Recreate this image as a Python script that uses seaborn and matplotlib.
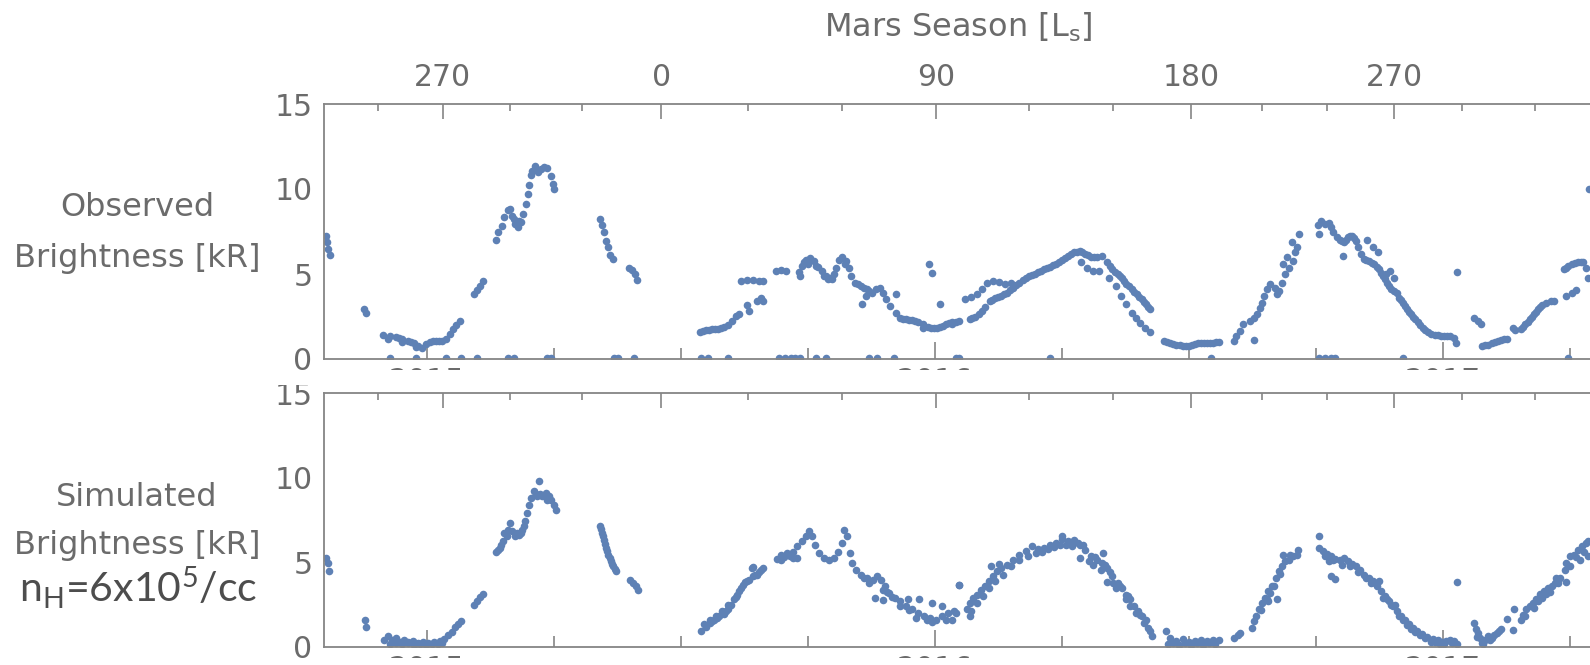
import numpy as np
import pandas as pd
import matplotlib
matplotlib.use("Agg")
import matplotlib.pyplot as plt
from matplotlib.patches import Rectangle
import seaborn as sns

# Style
sns.set_theme(style="white")
plt.rcParams['font.family'] = ['DejaVu Sans']
plt.rcParams['mathtext.rm'] = 'Lato'
plt.rcParams['mathtext.it'] = 'Lato:italic'
plt.rcParams['mathtext.bf'] = 'Lato:bold'

DOT = '#5e81b5'
TEXT = '#6b6b6b'
LINE = '#858585'

# ---------------- data ----------------
# observed brightness (decimal year, kR)
obs_points = [
    (2014.802, 7.26), (2014.804, 6.86), (2014.806, 6.47), (2014.810, 6.13),
    (2014.877, 2.92), (2014.880, 2.72),
    (2014.915, 1.44), (2014.927, 1.38), (2014.939, 1.30), (2014.951, 1.20), (2014.963, 1.08),
    (2014.975, 0.95), (2014.983, 0.75), (2014.990, 0.65), (2014.998, 0.89), (2015.007, 1.01),
    (2015.019, 1.05), (2015.031, 1.08), (2015.039, 1.20), (2015.046, 1.48), (2015.051, 1.74),
    (2015.058, 1.99), (2015.065, 2.23), (2014.923, 1.20), (2014.951, 1.01), (2014.979, 0.69),
    (2014.945, 1.25), (2014.969, 1.02), (2015.013, 1.03), (2015.025, 1.06),
    (2015.094, 3.81), (2015.100, 4.04), (2015.105, 4.30), (2015.110, 4.56),
    (2015.136, 7.00), (2015.141, 7.45), (2015.148, 7.85), (2015.153, 8.34), (2015.160, 8.74),
    (2015.164, 8.83), (2015.168, 8.44), (2015.172, 8.24), (2015.174, 7.95), (2015.180, 7.79),
    (2015.182, 8.14), (2015.186, 8.05), (2015.190, 8.54), (2015.196, 9.13), (2015.200, 9.72),
    (2015.202, 10.21), (2015.206, 10.81), (2015.208, 11.06), (2015.214, 11.34), (2015.220, 11.00),
    (2015.226, 11.20), (2015.231, 11.30), (2015.236, 11.26), (2015.244, 10.75), (2015.248, 10.31),
    (2015.251, 10.02),
    (2015.341, 8.24), (2015.345, 7.91), (2015.349, 7.45), (2015.353, 6.96), (2015.357, 6.57),
    (2015.361, 6.13), (2015.367, 5.88),
    (2015.399, 5.38), (2015.405, 5.23), (2015.410, 4.99), (2015.415, 4.63),
    (2015.539, 1.58), (2015.549, 1.68), (2015.561, 1.74), (2015.573, 1.79), (2015.586, 1.87),
    (2015.594, 1.99), (2015.602, 2.23), (2015.608, 2.52), (2015.614, 2.62),
    (2015.544, 1.63), (2015.555, 1.71), (2015.567, 1.76), (2015.580, 1.83),
    (2015.630, 3.17), (2015.634, 2.82), (2015.651, 3.41), (2015.658, 3.61), (2015.662, 3.41),
    (2015.619, 4.59), (2015.630, 4.65), (2015.642, 4.63), (2015.654, 4.59), (2015.662, 4.56),
    (2015.688, 5.19), (2015.698, 5.23), (2015.708, 5.15),
    (2015.732, 5.09), (2015.738, 5.48), (2015.746, 5.82), (2015.754, 5.94), (2015.762, 5.78),
    (2015.770, 5.42), (2015.778, 5.15), (2015.786, 4.89), (2015.794, 4.79), (2015.801, 4.99),
    (2015.806, 5.38), (2015.812, 5.82), (2015.818, 5.98), (2015.825, 5.78), (2015.831, 5.38),
    (2015.836, 4.89), (2015.844, 4.50), (2015.855, 4.30), (2015.867, 4.10), (2015.876, 3.90),
    (2015.884, 4.10), (2015.892, 4.16), (2015.899, 3.90), (2015.905, 3.51), (2015.913, 3.12),
    (2015.923, 2.72), (2015.931, 2.43), (2015.943, 2.33), (2015.955, 2.27), (2015.967, 2.19),
    (2015.977, 2.07), (2015.987, 1.87), (2015.999, 1.83), (2016.011, 1.87), (2016.023, 2.07),
    (2016.035, 2.19), (2016.047, 2.23),
    (2015.742, 5.68), (2015.790, 4.69), (2015.849, 4.40), (2015.871, 4.00),
    (2015.734, 4.89), (2015.750, 5.58), (2015.766, 5.48), (2015.782, 4.89), (2015.798, 4.69),
    (2015.823, 5.58), (2015.861, 4.20), (2015.937, 2.38), (2015.949, 2.30), (2015.961, 2.23),
    (2015.993, 1.85), (2016.005, 1.85), (2016.017, 1.97), (2016.029, 2.13),
    (2015.857, 3.21), (2015.865, 3.71), (2015.923, 3.85), (2015.977, 1.83), (2015.989, 5.58),
    (2015.995, 5.03), (2016.010, 3.21),
    (2016.034, 2.03), (2016.043, 2.19),
    (2016.069, 2.33), (2016.079, 2.47), (2016.088, 2.62), (2016.099, 3.06), (2016.108, 3.41),
    (2016.119, 3.57), (2016.131, 3.71), (2016.143, 3.90), (2016.155, 4.20), (2016.167, 4.50),
    (2016.179, 4.79), (2016.191, 4.95), (2016.203, 5.09), (2016.215, 5.28), (2016.227, 5.44),
    (2016.239, 5.58), (2016.251, 5.82), (2016.263, 6.07), (2016.275, 6.27), (2016.286, 6.37),
    (2016.296, 6.17), (2016.308, 6.01), (2016.320, 5.98), (2016.329, 6.07), (2016.340, 5.68),
    (2016.350, 5.28), (2016.360, 4.99), (2016.368, 4.79), (2016.377, 4.44), (2016.388, 4.10),
    (2016.398, 3.81), (2016.408, 3.51), (2016.416, 3.21), (2016.424, 2.92),
    (2016.074, 2.40), (2016.093, 2.85), (2016.113, 3.50), (2016.125, 3.64), (2016.137, 3.80),
    (2016.149, 4.05), (2016.161, 4.35), (2016.173, 4.65), (2016.185, 4.87), (2016.197, 5.02),
    (2016.209, 5.18), (2016.221, 5.36), (2016.233, 5.51), (2016.245, 5.70), (2016.257, 5.95),
    (2016.269, 6.17), (2016.281, 6.32), (2016.291, 6.27), (2016.302, 6.09), (2016.314, 6.00),
    (2016.345, 5.48), (2016.355, 5.13), (2016.364, 4.89), (2016.372, 4.61), (2016.382, 4.27),
    (2016.393, 3.95), (2016.403, 3.66), (2016.412, 3.36), (2016.420, 3.06),
    (2016.059, 3.51), (2016.071, 3.65), (2016.083, 3.81), (2016.093, 4.10), (2016.104, 4.50),
    (2016.115, 4.59), (2016.127, 4.54), (2016.139, 4.40), (2016.151, 4.50),
    (2016.344, 4.79), (2016.356, 4.30), (2016.366, 3.71), (2016.376, 3.21), (2016.388, 2.72),
    (2016.396, 2.43), (2016.404, 2.13), (2016.414, 1.83), (2016.424, 1.60),
    (2016.300, 5.38), (2016.312, 5.19), (2016.324, 5.19), (2016.288, 5.68),
    (2016.452, 1.08), (2016.464, 0.95), (2016.476, 0.85), (2016.488, 0.79), (2016.500, 0.79),
    (2016.512, 0.89), (2016.524, 0.95), (2016.537, 0.97), (2016.548, 0.97), (2016.559, 0.99),
    (2016.458, 1.00), (2016.470, 0.90), (2016.482, 0.82), (2016.494, 0.79), (2016.506, 0.84),
    (2016.518, 0.92), (2016.530, 0.96), (2016.542, 0.97), (2016.554, 0.98),
    (2016.589, 1.08), (2016.594, 1.34), (2016.601, 1.64), (2016.607, 2.07), (2016.621, 2.23),
    (2016.629, 2.43), (2016.634, 2.62), (2016.641, 3.02), (2016.645, 3.31), (2016.649, 3.71),
    (2016.655, 4.10), (2016.661, 4.40), (2016.669, 4.20), (2016.673, 3.81), (2016.677, 4.00),
    (2016.683, 4.50), (2016.689, 4.99), (2016.697, 5.38), (2016.705, 5.78), (2016.709, 6.27),
    (2016.713, 6.57),
    (2016.685, 5.58), (2016.693, 5.98), (2016.703, 6.86), (2016.717, 7.36), (2016.629, 1.10),
    (2016.755, 7.91), (2016.761, 8.10), (2016.768, 7.95), (2016.776, 7.99), (2016.781, 7.75),
    (2016.785, 7.45), (2016.792, 7.20), (2016.797, 7.00), (2016.805, 6.86), (2016.813, 7.16),
    (2016.821, 7.26), (2016.830, 6.96), (2016.834, 6.57), (2016.840, 6.17), (2016.846, 5.88),
    (2016.854, 5.74), (2016.865, 5.58), (2016.874, 5.28), (2016.882, 4.89), (2016.890, 4.50),
    (2016.898, 4.10), (2016.904, 4.00), (2016.910, 3.90), (2016.914, 3.61), (2016.922, 3.31),
    (2016.930, 2.92), (2016.938, 2.62), (2016.946, 2.33), (2016.956, 1.99), (2016.966, 1.68),
    (2016.978, 1.48), (2016.990, 1.40), (2017.002, 1.34), (2017.014, 1.34), (2017.022, 1.24),
    (2017.026, 0.95),
    (2016.801, 6.93), (2016.809, 7.00), (2016.817, 7.22), (2016.826, 7.10), (2016.850, 5.80),
    (2016.860, 5.66), (2016.870, 5.43), (2016.878, 5.08), (2016.886, 4.70), (2016.894, 4.30),
    (2016.918, 3.46), (2016.926, 3.11), (2016.934, 2.77), (2016.942, 2.47), (2016.951, 2.16),
    (2016.961, 1.83), (2016.972, 1.58), (2016.984, 1.44), (2016.996, 1.37), (2017.008, 1.34),
    (2016.757, 7.36), (2016.803, 6.03), (2016.851, 7.00), (2016.862, 6.57), (2016.872, 6.27),
    (2016.888, 4.99), (2016.896, 5.15), (2016.904, 4.79), (2017.028, 5.09),
    (2017.061, 2.39), (2017.070, 2.23), (2017.076, 2.07),
    (2017.078, 0.75), (2017.090, 0.85), (2017.103, 1.01), (2017.115, 1.12), (2017.127, 1.20),
    (2017.084, 0.80), (2017.097, 0.93), (2017.109, 1.07), (2017.121, 1.16),
    (2017.139, 1.83), (2017.143, 1.68),
    (2017.155, 1.74), (2017.163, 2.03), (2017.171, 2.33), (2017.179, 2.62), (2017.187, 2.92),
    (2017.195, 3.17), (2017.203, 3.31), (2017.213, 3.41), (2017.219, 3.41),
    (2017.159, 1.88), (2017.167, 2.18), (2017.175, 2.47), (2017.183, 2.77), (2017.191, 3.05),
    (2017.243, 3.71), (2017.255, 3.90), (2017.263, 4.04),
    (2017.239, 5.28), (2017.247, 5.48), (2017.255, 5.58), (2017.267, 5.68), (2017.277, 5.68),
    (2017.283, 5.38), (2017.287, 4.79), (2017.243, 5.38), (2017.261, 5.63), (2017.272, 5.68),
    (2017.289, 10.0),
]

# observed points sitting on the zero line
obs_zero_year = [
    2014.927, 2014.979, 2015.039, 2015.067, 2015.100, 2015.160, 2015.172, 2015.236, 2015.244,
    2015.369, 2015.377, 2015.409, 2015.541, 2015.553, 2015.594, 2015.694, 2015.706, 2015.718,
    2015.726, 2015.734, 2015.766, 2015.786, 2015.871, 2015.886, 2015.919, 2016.043, 2016.047,
    2016.227, 2016.544, 2016.757, 2016.769, 2016.781, 2016.789, 2016.922, 2017.247,
]
obs_zero_kr = [0.08] * len(obs_zero_year)

# simulated brightness (decimal year, kR), n_H = 6e5 /cc
sim_points = [
    (2014.802, 5.26), (2014.805, 4.96), (2014.808, 4.47),
    (2014.879, 1.61), (2014.880, 1.18),
    (2014.917, 0.43), (2014.923, 0.63), (2014.931, 0.39), (2014.939, 0.53), (2014.947, 0.28),
    (2014.955, 0.39), (2014.963, 0.24), (2014.974, 0.33), (2014.983, 0.20), (2014.993, 0.28),
    (2015.003, 0.24), (2015.015, 0.28), (2015.027, 0.33), (2015.035, 0.47), (2015.043, 0.67),
    (2015.049, 0.87),
    (2014.927, 0.14), (2014.951, 0.14), (2014.975, 0.12), (2014.999, 0.10), (2015.023, 0.14),
    (2014.939, 0.25), (2014.963, 0.30), (2014.987, 0.18), (2015.011, 0.15), (2015.031, 0.22),
    (2015.055, 1.18), (2015.062, 1.36), (2015.067, 1.52),
    (2015.094, 2.50), (2015.100, 2.70), (2015.105, 2.95), (2015.110, 3.15),
    (2015.137, 5.59), (2015.144, 5.85), (2015.150, 6.24), (2015.153, 6.73), (2015.160, 6.93),
    (2015.164, 7.32), (2015.168, 6.83), (2015.174, 6.54), (2015.181, 6.64), (2015.188, 6.93),
    (2015.194, 7.42), (2015.198, 7.92), (2015.202, 8.41), (2015.206, 8.80), (2015.212, 9.20),
    (2015.218, 8.94), (2015.222, 9.79), (2015.228, 8.94), (2015.234, 9.10), (2015.240, 8.90),
    (2015.245, 8.70), (2015.250, 8.41), (2015.255, 8.11),
    (2015.158, 6.54), (2015.177, 6.73), (2015.224, 9.06), (2015.236, 8.70), (2015.215, 9.05),
    (2015.141, 5.70), (2015.147, 6.05), (2015.185, 6.75), (2015.191, 7.15),
    (2015.341, 7.13), (2015.345, 6.73), (2015.349, 6.34), (2015.353, 5.85), (2015.357, 5.45),
    (2015.362, 5.06), (2015.367, 4.77), (2015.373, 4.47), (2015.343, 6.95), (2015.347, 6.55),
    (2015.351, 6.10), (2015.355, 5.65), (2015.360, 5.25), (2015.364, 4.90), (2015.370, 4.62),
    (2015.401, 3.98), (2015.407, 3.78), (2015.413, 3.58), (2015.417, 3.39),
    (2015.541, 0.93), (2015.549, 1.18), (2015.557, 1.42), (2015.565, 1.61), (2015.576, 1.81),
    (2015.586, 1.97), (2015.594, 2.21), (2015.600, 2.50), (2015.605, 2.84), (2015.611, 3.09),
    (2015.618, 3.49), (2015.626, 3.82), (2015.634, 3.98), (2015.642, 4.17), (2015.650, 4.27),
    (2015.658, 4.57), (2015.662, 4.67),
    (2015.545, 1.32), (2015.557, 1.61), (2015.569, 1.81), (2015.581, 2.11), (2015.594, 2.50),
    (2015.640, 4.67), (2015.561, 1.50), (2015.571, 1.70), (2015.590, 2.10), (2015.608, 2.95),
    (2015.615, 3.30), (2015.622, 3.65), (2015.630, 3.90), (2015.646, 4.22), (2015.654, 4.42),
    (2015.690, 5.20), (2015.698, 5.45), (2015.710, 5.55), (2015.722, 5.59), (2015.730, 5.95),
    (2015.738, 6.24), (2015.746, 6.54), (2015.753, 6.83), (2015.758, 6.54), (2015.764, 6.04),
    (2015.772, 5.55), (2015.782, 5.26), (2015.793, 5.12), (2015.802, 5.26), (2015.810, 5.59),
    (2015.817, 6.14), (2015.822, 6.93), (2015.828, 6.54), (2015.833, 5.55), (2015.838, 4.96),
    (2015.846, 4.57), (2015.855, 4.27), (2015.867, 4.08), (2015.879, 3.98), (2015.886, 4.17),
    (2015.894, 3.98), (2015.902, 3.58), (2015.910, 3.19), (2015.921, 2.89), (2015.931, 2.70),
    (2015.943, 2.40), (2015.955, 2.21), (2015.967, 2.01), (2015.979, 1.81), (2015.991, 1.71),
    (2016.003, 1.61), (2016.015, 1.81), (2016.027, 2.01), (2016.039, 2.11), (2016.047, 3.68),
    (2015.698, 5.16), (2015.722, 5.26), (2015.871, 3.78), (2015.898, 3.39), (2015.931, 2.40),
    (2015.963, 1.71), (2015.995, 1.46), (2016.023, 1.58), (2015.704, 5.30), (2015.716, 5.35),
    (2015.861, 4.05), (2015.906, 3.25), (2015.916, 2.95), (2015.949, 2.20), (2015.985, 1.60),
    (2015.883, 2.89), (2015.898, 2.76), (2015.947, 2.80), (2015.969, 2.84), (2015.995, 2.60),
    (2016.015, 2.44), (2015.730, 5.26), (2015.642, 4.73),
    (2016.034, 1.61), (2016.043, 2.01), (2016.048, 3.68),
    (2016.063, 2.21), (2016.069, 2.60), (2016.075, 2.89), (2016.083, 3.09), (2016.091, 3.39),
    (2016.099, 3.58), (2016.107, 3.88), (2016.115, 4.17), (2016.123, 4.47), (2016.131, 4.67),
    (2016.143, 4.86), (2016.155, 5.16), (2016.167, 5.45), (2016.179, 5.65), (2016.191, 5.95),
    (2016.203, 5.79), (2016.215, 5.85), (2016.227, 6.04), (2016.239, 6.14), (2016.251, 6.38),
    (2016.263, 6.24), (2016.275, 6.34), (2016.286, 6.04), (2016.296, 5.75), (2016.308, 5.36),
    (2016.320, 5.16), (2016.329, 4.96), (2016.340, 4.67), (2016.350, 4.17), (2016.360, 3.78),
    (2016.368, 3.49), (2016.376, 3.09), (2016.384, 2.80), (2016.392, 2.40), (2016.400, 2.11),
    (2016.408, 1.81), (2016.416, 1.61), (2016.424, 0.93), (2016.428, 0.63),
    (2016.071, 2.11), (2016.083, 2.60), (2016.095, 2.99), (2016.107, 3.49), (2016.119, 3.88),
    (2016.135, 4.27), (2016.151, 4.77), (2016.167, 5.16), (2016.183, 5.36), (2016.199, 5.55),
    (2016.271, 5.95), (2016.304, 5.06), (2016.328, 4.57), (2016.352, 3.78), (2016.376, 2.80),
    (2016.396, 2.01), (2016.412, 1.42), (2016.420, 1.12),
    (2016.211, 5.60), (2016.223, 5.80), (2016.235, 5.90), (2016.247, 6.05), (2016.259, 6.00),
    (2016.283, 6.15), (2016.292, 6.00), (2016.316, 5.30), (2016.336, 4.85), (2016.345, 4.40),
    (2016.364, 3.60), (2016.380, 3.00), (2016.404, 1.90),
    (2016.069, 1.81), (2016.111, 4.80), (2016.127, 4.92), (2016.287, 5.26), (2016.312, 4.86),
    (2016.332, 5.55), (2016.340, 3.82), (2016.356, 3.49), (2016.384, 2.40), (2016.251, 6.58),
    (2016.456, 0.93), (2016.464, 0.53), (2016.476, 0.33), (2016.488, 0.47), (2016.500, 0.28),
    (2016.512, 0.33), (2016.524, 0.39), (2016.537, 0.32), (2016.548, 0.39), (2016.559, 0.43),
    (2016.460, 0.14), (2016.480, 0.12), (2016.504, 0.10), (2016.528, 0.12), (2016.552, 0.14),
    (2016.470, 0.22), (2016.492, 0.20), (2016.516, 0.22), (2016.540, 0.20),
    (2016.589, 0.53), (2016.597, 0.67), (2016.602, 0.83), (2016.625, 1.12), (2016.629, 1.52),
    (2016.633, 1.85), (2016.639, 2.21), (2016.645, 2.60), (2016.650, 2.89), (2016.657, 3.29),
    (2016.665, 3.58), (2016.671, 4.08), (2016.677, 4.47), (2016.683, 4.77), (2016.689, 5.06),
    (2016.697, 5.16), (2016.705, 5.36), (2016.713, 5.45),
    (2016.685, 5.45), (2016.699, 5.45), (2016.715, 5.71), (2016.657, 2.70), (2016.673, 2.80),
    (2016.642, 2.15), (2016.654, 2.85), (2016.661, 3.20), (2016.668, 3.60), (2016.680, 4.30),
    (2016.757, 6.54), (2016.757, 5.85), (2016.765, 5.65), (2016.773, 5.51), (2016.781, 5.36),
    (2016.789, 5.20), (2016.797, 5.12), (2016.805, 5.26), (2016.813, 5.06), (2016.821, 4.92),
    (2016.830, 4.77), (2016.838, 4.57), (2016.846, 4.27), (2016.854, 4.08), (2016.862, 3.88),
    (2016.870, 3.58), (2016.878, 3.29), (2016.886, 2.99), (2016.894, 2.70), (2016.902, 2.40),
    (2016.910, 2.11), (2016.918, 1.81), (2016.926, 1.58), (2016.934, 1.32), (2016.942, 1.12),
    (2016.950, 0.93), (2016.960, 0.73), (2016.970, 0.59), (2016.980, 0.47), (2016.990, 0.39),
    (2016.998, 0.28), (2017.006, 0.33), (2017.014, 0.43), (2017.022, 0.33), (2017.028, 0.14),
    (2016.777, 5.06), (2016.801, 4.86), (2016.834, 4.41), (2016.866, 3.78), (2016.890, 2.80),
    (2016.906, 2.50), (2016.922, 1.61), (2016.946, 0.87), (2016.978, 0.28), (2016.994, 0.14),
    (2016.769, 5.40), (2016.785, 5.15), (2016.817, 4.80), (2016.850, 4.05), (2016.858, 3.80),
    (2016.882, 2.90), (2016.898, 2.45), (2016.914, 1.80), (2016.930, 1.30), (2016.938, 1.05),
    (2016.955, 0.70), (2016.965, 0.50), (2016.985, 0.30), (2017.002, 0.18), (2017.018, 0.20),
    (2016.781, 4.17), (2016.789, 4.02), (2017.029, 3.82), (2016.875, 3.88),
    (2017.062, 1.42), (2017.066, 1.06), (2017.070, 0.83), (2017.074, 0.53), (2017.078, 0.24),
    (2017.084, 0.43), (2017.090, 0.63), (2017.098, 0.53), (2017.106, 0.83), (2017.115, 1.06),
    (2017.068, 0.60), (2017.080, 0.15), (2017.094, 0.40), (2017.102, 0.70), (2017.110, 0.95),
    (2017.140, 2.21), (2017.139, 0.98), (2017.127, 1.65),
    (2017.155, 1.61), (2017.159, 1.91), (2017.164, 2.21), (2017.171, 2.40), (2017.177, 2.60),
    (2017.184, 2.84), (2017.191, 3.15), (2017.199, 3.29), (2017.207, 3.49), (2017.215, 3.58),
    (2017.221, 3.78), (2017.231, 4.08),
    (2017.163, 1.81), (2017.179, 2.30), (2017.195, 2.89), (2017.211, 3.23), (2017.243, 3.82),
    (2017.223, 4.08), (2017.187, 2.70), (2017.203, 3.10), (2017.227, 3.80),
    (2017.241, 4.57), (2017.243, 4.96), (2017.251, 5.36), (2017.259, 5.45), (2017.267, 5.75),
    (2017.275, 5.95), (2017.282, 6.14), (2017.286, 6.24), (2017.287, 5.36), (2017.251, 4.77),
    (2017.271, 5.16), (2017.263, 5.30), (2017.279, 5.60),
]

# axis ticks
year_ticks = [2015, 2016, 2017]
year_labels = ['2015', '2016', '2017']
quarter_ticks = [2015.25, 2015.5, 2015.75, 2016.25, 2016.5, 2016.75, 2017.25]
# Mars solar longitude ticks, placed on the time axis
ls_major_pos = [2015.032, 2015.462, 2016.003, 2016.505, 2016.905]
ls_major_labels = ['270', '0', '90', '180', '270']
ls_minor_pos = [2014.904, 2015.164, 2015.305, 2015.633, 2015.818, 2016.185,
                2016.351, 2016.644, 2016.773, 2017.038, 2017.181]

X_LEFT, X_RIGHT = 2014.797, 2017.290

obs = pd.DataFrame(obs_points, columns=['year', 'kR'])
obs_zero = pd.DataFrame({'year': obs_zero_year, 'kR': obs_zero_kr})
sim = pd.DataFrame(sim_points, columns=['year', 'kR'])

# ---------------- figure ----------------
W, H = 1590, 665
fig = plt.figure(figsize=(W / 100, H / 100), dpi=100)

def fig_box(left_px, top_px, right_px, bottom_px):
    return [left_px / W, 1 - bottom_px / H, (right_px - left_px) / W, (bottom_px - top_px) / H]

ax1 = fig.add_axes(fig_box(323.5, 104, 1590, 359))
ax2 = fig.add_axes(fig_box(323.5, 393.3, 1590, 646.8))

sns.scatterplot(data=obs, x='year', y='kR', ax=ax1, color=DOT, s=30, linewidth=0, legend=False)
sns.scatterplot(data=obs_zero, x='year', y='kR', ax=ax1, color=DOT, s=30, linewidth=0, legend=False)
sns.scatterplot(data=sim, x='year', y='kR', ax=ax2, color=DOT, s=30, linewidth=0, legend=False)

def style(ax, top_labels):
    ax.set_xlim(X_LEFT, X_RIGHT)
    ax.set_ylim(0, 15)
    ax.set_xlabel('')
    ax.set_ylabel('')
    ax.set_yticks([0, 5, 10, 15])
    ax.set_xticks(year_ticks)
    ax.set_xticklabels(year_labels)
    ax.set_xticks(quarter_ticks, minor=True)
    ax.tick_params(axis='both', which='both', direction='in', color=LINE, width=1.2,
                   labelcolor=TEXT, labelsize=21.5)
    ax.tick_params(axis='x', which='major', length=12, pad=6)
    ax.tick_params(axis='x', which='minor', length=8)
    ax.tick_params(axis='y', which='major', length=7, pad=8)
    for side in ['left', 'top', 'bottom']:
        ax.spines[side].set_color(LINE)
        ax.spines[side].set_linewidth(1.3)
    ax.spines['right'].set_visible(False)

    top = ax.twiny()
    top.set_xlim(X_LEFT, X_RIGHT)
    top.set_xticks(ls_major_pos)
    top.set_xticklabels(ls_major_labels if top_labels else [''] * len(ls_major_pos))
    top.set_xticks(ls_minor_pos, minor=True)
    top.tick_params(axis='x', which='both', direction='in', color=LINE, width=1.2,
                    labelcolor=TEXT, labelsize=21.5)
    top.tick_params(axis='x', which='major', length=11, pad=9)
    top.tick_params(axis='x', which='minor', length=5)
    for s in top.spines.values():
        s.set_visible(False)

style(ax1, True)
style(ax2, False)

# the year labels are cut off in the source figure (panels were cropped and stacked)
covers = [
    (0, 370, W, 385),        # trims the top of the lower panel's "15" too
    (330, 385, W, 392.3),
    (0, 658, W, H),
]
for x0, y_top, x1, y_bot in covers:
    cover = Rectangle((x0 / W, 1 - y_bot / H), (x1 - x0) / W, (y_bot - y_top) / H,
                      transform=fig.transFigure, facecolor='white', edgecolor='none', zorder=10)
    fig.add_artist(cover)

# labels
fig.text(958 / W, 1 - 27 / H, r'Mars Season [L$_\mathrm{s}$]', ha='center', va='center',
         fontsize=23, color=TEXT, math_fontfamily='dejavusans')
fig.text(137 / W, 1 - 207.5 / H, 'Observed', ha='center', va='center', fontsize=23, color=TEXT)
fig.text(137 / W, 1 - 258 / H, 'Brightness [kR]', ha='center', va='center', fontsize=23, color=TEXT)
fig.text(137 / W, 1 - 497 / H, 'Simulated', ha='center', va='center', fontsize=23, color=TEXT)
fig.text(137 / W, 1 - 545.5 / H, 'Brightness [kR]', ha='center', va='center', fontsize=23, color=TEXT)
fig.text(138 / W, 1 - 588 / H, r'n$_\mathrm{H}$=6x10$^5$/cc', ha='center', va='center',
         fontsize=29.5, color='#4d4d4d', family=['Lato', 'DejaVu Sans'], math_fontfamily='custom')

fig.savefig('out.png', dpi=100)
plt.close(fig)
